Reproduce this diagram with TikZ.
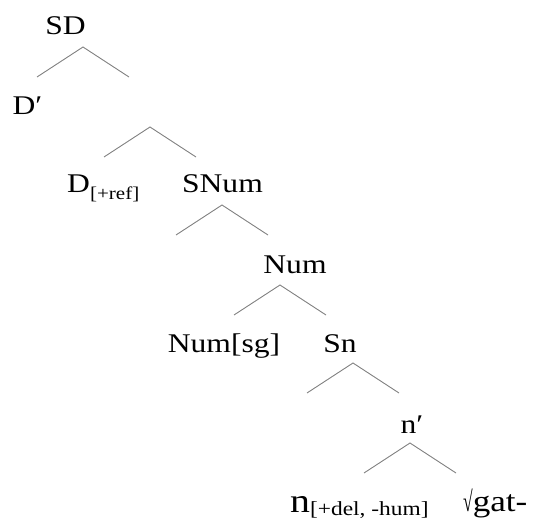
\documentclass[tikz,border=0pt]{standalone}
\usepackage{fontspec}
\setmainfont{Liberation Serif}[FakeStretch=1.17]
\tikzset{
	cat/.style={anchor=base, inner sep=0pt, font=\fontsize{27}{30}\selectfont},
	branch/.style={draw=gray, line width=0.9pt}
}
% size, lowering, text of a feature subscript
\newcommand{\feat}[3]{\raisebox{-#2pt}{\fontsize{#1}{#1}\selectfont #3}}

\begin{document}
\begin{tikzpicture}[x=1pt, y=-1pt]
	\useasboundingbox (0,0) rectangle (539,519);
	\node[cat] (sd) at (65.5,35) {SD};
	\node[cat] (dbar) at (27.5,115) {D′};
	\node[cat, anchor=base west] (d) at (67,193) {D\feat{18}{7}{[+ref]}};
	\node[cat] (snum) at (222.5,193) {SNum};
	\node[cat] (num) at (295,273) {Num};
	\node[cat] (numsg) at (224,352) {Num[sg]};
	\node[cat] (sn) at (340,352) {Sn};
	\node[cat] (nbar) at (412,433) {n′};
	\node[cat, anchor=base west] (n) at (290,512) {{\fontsize{34}{34}\selectfont n}\feat{20}{3}{[+del, -hum]}};
	\node[cat, anchor=base west] (root) at (463,511) {\fontsize{30}{30}\selectfont\scalebox{0.5}[0.95]{√}gat-};
	% branches
	\foreach \c/\x/\y in {sdb/83/47, dbarb/150/127, snumb/222/205, numb/280/285, snb/353/363, nbarb/410/443} {
		\coordinate (\c) at (\x,\y);
		\coordinate (\c-l) at (\x-46,\y+30);
		\coordinate (\c-r) at (\x+46,\y+30);
		\draw[branch] (\c-l) -- (\c) -- (\c-r);
	}
\end{tikzpicture}
\end{document}
